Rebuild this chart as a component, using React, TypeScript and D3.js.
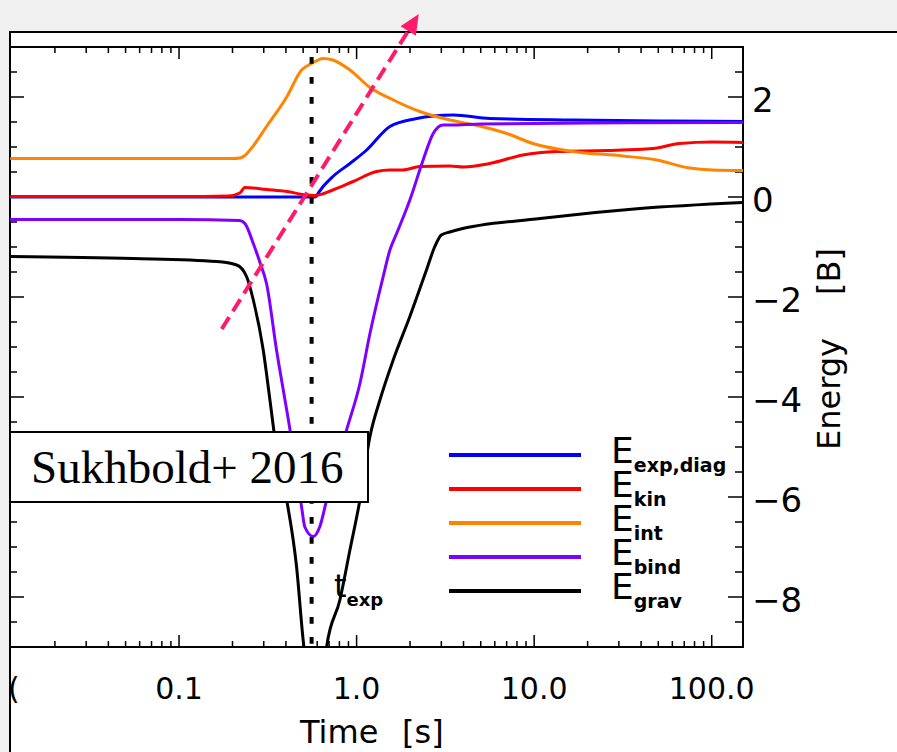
import React from 'react';
import * as d3 from 'd3';

const W = 897;
const H = 752;

// axis ticks / labels
const timeMajor = [0.1, 1, 10, 100];
const timeMajorLabels = ['0.1', '1.0', '10.0', '100.0'];
const energyMajor = [2, 0, -2, -4, -6, -8];
const energyMajorLabels = ['2', '0', '\u22122', '\u22124', '\u22126', '\u22128'];

// series (time [s], energy [B])
const eExpDiag: [number, number][] = [
  [0.0112, 0.0], [0.3, 0.0], [0.582, 0.0], [0.62, 0.12], [0.648, 0.21], [0.735, 0.41],
  [0.917, 0.67], [1.14, 0.94], [1.54, 1.41], [2.18, 1.57], [2.7, 1.62], [3.5, 1.64],
  [5.63, 1.57], [16.5, 1.54], [60, 1.52], [150, 1.51],
];
const eKin: [number, number][] = [
  [0.0112, 0.01], [0.1, 0.01], [0.19, 0.02], [0.22, 0.08], [0.235, 0.19], [0.311, 0.15],
  [0.404, 0.11], [0.523, 0.04], [0.58, 0.03], [0.735, 0.14], [0.957, 0.31], [1.296, 0.51],
  [1.54, 0.54], [1.82, 0.54], [2.27, 0.61], [3.35, 0.62], [4.0, 0.6], [5.63, 0.67],
  [8.64, 0.84], [13.4, 0.91], [25.7, 0.93], [46.6, 0.97], [66, 1.07], [101, 1.1], [150, 1.09],
];
const eInt: [number, number][] = [
  [0.0112, 0.77], [0.1, 0.77], [0.2, 0.77], [0.22, 0.78], [0.235, 0.83], [0.251, 0.94],
  [0.311, 1.41], [0.404, 2.0], [0.49, 2.54], [0.558, 2.67], [0.648, 2.77], [0.735, 2.74],
  [0.917, 2.54], [1.19, 2.19], [1.61, 1.94], [2.27, 1.71], [3.36, 1.54], [4.52, 1.45],
  [7.0, 1.27], [9.84, 1.07], [16.5, 0.91], [31.6, 0.82], [49, 0.74], [75, 0.58], [101, 0.54], [150, 0.53],
];
const eBind: [number, number][] = [
  [0.0112, -0.45], [0.1, -0.45], [0.22, -0.47], [0.235, -0.53], [0.262, -0.93], [0.285, -1.3],
  [0.311, -1.73], [0.354, -3.06], [0.404, -4.26], [0.44, -5.06], [0.49, -6.2], [0.511, -6.6],
  [0.57, -6.79], [0.621, -6.59], [0.678, -6.06], [0.878, -4.66], [1.044, -3.73], [1.189, -2.73],
  [1.412, -1.59], [1.54, -1.06], [1.68, -0.73], [1.995, -0.06], [2.37, 0.74], [2.7, 1.27],
  [3.07, 1.44], [3.35, 1.44], [5, 1.46], [20, 1.48], [150, 1.49],
];
const eGrav: [number, number][] = [
  [0.0112, -1.19], [0.055, -1.23], [0.163, -1.29], [0.211, -1.36], [0.24, -1.59], [0.262, -2.06],
  [0.298, -3.06], [0.325, -4.06], [0.354, -5.06], [0.404, -6.06], [0.459, -7.39], [0.5, -8.86],
  [0.53, -9.6], [0.6, -10], [0.65, -9.6], [0.678, -9.0], [0.805, -8.06], [0.917, -7.06],
  [1.044, -6.06], [1.189, -4.79], [1.353, -4.06], [1.607, -3.26], [1.995, -2.39], [2.48, -1.45],
  [2.75, -1.0], [3.0, -0.76], [3.35, -0.7], [3.67, -0.66], [10.8, -0.43], [39.4, -0.23], [150, -0.11],
];

const seriesData = [eExpDiag, eKin, eInt, eBind, eGrav];
const seriesSubs = ['exp,diag', 'kin', 'int', 'bind', 'grav'];
const seriesColors = ['#0000ff', '#ff0000', '#ff8400', '#7f00ff', '#000000'];

const tExp = 0.558;
const arrowStart: [number, number] = [0.174, -2.64];
const arrowEnd: [number, number] = [2.24, 3.66];

const SANS = 'DejaVu Sans, sans-serif';

export default function App() {
  const left = 10, right = 743, top = 47, bottom = 647;
  const x = d3.scaleLog().domain([0.01117, 150]).range([left, right]);
  const y = d3.scaleLinear().domain([-9, 3]).range([bottom, top]);

  const line = d3.line<[number, number]>()
    .x(d => x(d[0]))
    .y(d => y(d[1]))
    .curve(d3.curveMonotoneX);

  const [d0, d1] = x.domain();
  const minorX: number[] = [];
  for (let e = -2; e <= 2; e++) {
    for (let m = 1; m <= 9; m++) {
      const v = m * Math.pow(10, e);
      if (v >= d0 && v <= d1 && m !== 1) minorX.push(v);
    }
  }
  const minorY = d3.range(-9, 3.001, 0.5).filter(v => !energyMajor.includes(v));

  // arrow geometry
  const ax0 = x(arrowStart[0]), ay0 = y(arrowStart[1]);
  const ax1 = x(arrowEnd[0]), ay1 = y(arrowEnd[1]);
  const len = Math.hypot(ax1 - ax0, ay1 - ay0);
  const ux = (ax1 - ax0) / len, uy = (ay1 - ay0) / len;
  const headL = 20, headW = 9;
  const bx = ax1 - ux * headL, by = ay1 - uy * headL;
  const head = `M${ax1},${ay1} L${bx - uy * headW},${by + ux * headW} L${bx + uy * headW},${by - ux * headW} Z`;

  const legendX0 = 449, legendX1 = 581, legendY0 = 455, legendDy = 34;

  return (
    <svg width={W} height={H} style={{ position: 'absolute', left: 0, top: 0, display: 'block' }}>
      <defs>
        <clipPath id="plotclip">
          <rect x={left} y={top} width={right - left} height={bottom - top} />
        </clipPath>
      </defs>
      <rect x={0} y={0} width={W} height={H} fill="#f0f0f0" />
      <rect x={10} y={32} width={W - 10} height={H - 32} fill="#ffffff" />
      <line x1={9} y1={32} x2={W} y2={32} stroke="#000" strokeWidth={2} />
      <line x1={10} y1={32} x2={10} y2={H} stroke="#000" strokeWidth={2} />

      {/* axes frame */}
      <rect x={left} y={top} width={right - left} height={bottom - top} fill="none" stroke="#000" strokeWidth={2} />

      {/* x ticks */}
      {timeMajor.map(v => (
        <g key={'xm' + v}>
          <line x1={x(v)} x2={x(v)} y1={bottom} y2={bottom - 12} stroke="#000" strokeWidth={1.5} />
          <line x1={x(v)} x2={x(v)} y1={top} y2={top + 12} stroke="#000" strokeWidth={1.5} />
        </g>
      ))}
      {minorX.map(v => (
        <g key={'xn' + v}>
          <line x1={x(v)} x2={x(v)} y1={bottom} y2={bottom - 6} stroke="#000" strokeWidth={1.5} />
          <line x1={x(v)} x2={x(v)} y1={top} y2={top + 6} stroke="#000" strokeWidth={1.5} />
        </g>
      ))}
      {timeMajor.map((v, i) => (
        <text key={'xl' + v} x={x(v)} y={699} textAnchor="middle" fontFamily={SANS} fontSize={30} fill="#000">
          {timeMajorLabels[i]}
        </text>
      ))}
      <text x={8} y={699} fontFamily={SANS} fontSize={30} fill="#000">(</text>
      <text x={300} y={743} fontFamily={SANS} fontSize={32} fill="#000">Time</text>
      <text x={402} y={743} fontFamily={SANS} fontSize={32} fill="#000">[s]</text>

      {/* y ticks */}
      {energyMajor.map(v => (
        <g key={'ym' + v}>
          <line x1={left} x2={left + 14} y1={y(v)} y2={y(v)} stroke="#000" strokeWidth={1.5} />
          <line x1={right} x2={right - 15} y1={y(v)} y2={y(v)} stroke="#000" strokeWidth={1.5} />
        </g>
      ))}
      {minorY.map(v => (
        <g key={'yn' + v}>
          <line x1={left} x2={left + 7} y1={y(v)} y2={y(v)} stroke="#000" strokeWidth={1.5} />
          <line x1={right} x2={right - 8} y1={y(v)} y2={y(v)} stroke="#000" strokeWidth={1.5} />
        </g>
      ))}
      {energyMajor.map((v, i) => (
        <text key={'yl' + v} x={752} y={y(v) + 15} fontFamily={SANS} fontSize={34} fill="#000">
          {energyMajorLabels[i]}
        </text>
      ))}
      <g transform="translate(840,450) rotate(-90)">
        <text x={0} y={0} fontFamily={SANS} fontSize={32} fill="#000">Energy</text>
      </g>
      <g transform="translate(840,295) rotate(-90)">
        <text x={0} y={0} fontFamily={SANS} fontSize={32} fill="#000">[B]</text>
      </g>

      {/* curves */}
      <g clipPath="url(#plotclip)">
        {seriesData.map((s, i) => (
          <path key={'s' + i} d={line(s) || ''} fill="none" stroke={seriesColors[i]} strokeWidth={3} strokeLinejoin="round" />
        ))}
        <line x1={x(tExp)} x2={x(tExp)} y1={y(2.8)} y2={y(-9)} stroke="#000" strokeWidth={4} strokeDasharray="6.7 13.3" />
      </g>

      {/* t_exp label */}
      <text x={334} y={597} fontFamily={SANS} fontSize={32} fill="#000">
        t<tspan dy={9} fontSize={18} fontWeight="bold">exp</tspan>
      </text>

      {/* legend */}
      {seriesSubs.map((sub, i) => (
        <g key={'lg' + i}>
          <line x1={legendX0} x2={legendX1} y1={legendY0 + i * legendDy} y2={legendY0 + i * legendDy}
            stroke={seriesColors[i]} strokeWidth={4} />
          <text x={611} y={legendY0 + i * legendDy + 8} fontFamily={SANS} fontSize={36} fill="#000">
            E<tspan dy={9} fontSize={19} fontWeight="bold">{sub}</tspan>
          </text>
        </g>
      ))}

      {/* Sukhbold box */}
      <rect x={10} y={432} width={358} height={70} fill="#fff" stroke="#000" strokeWidth={2} />
      <text x={31} y={483} fontFamily="Liberation Serif, serif" fontSize={47} fill="#000">Sukhbold+ 2016</text>

      {/* pink arrow */}
      <line x1={ax0} y1={ay0} x2={bx} y2={by} stroke="#ff1a6c" strokeWidth={4} strokeDasharray="14 7" />
      <path d={head} fill="#ff1a6c" />
    </svg>
  );
}
